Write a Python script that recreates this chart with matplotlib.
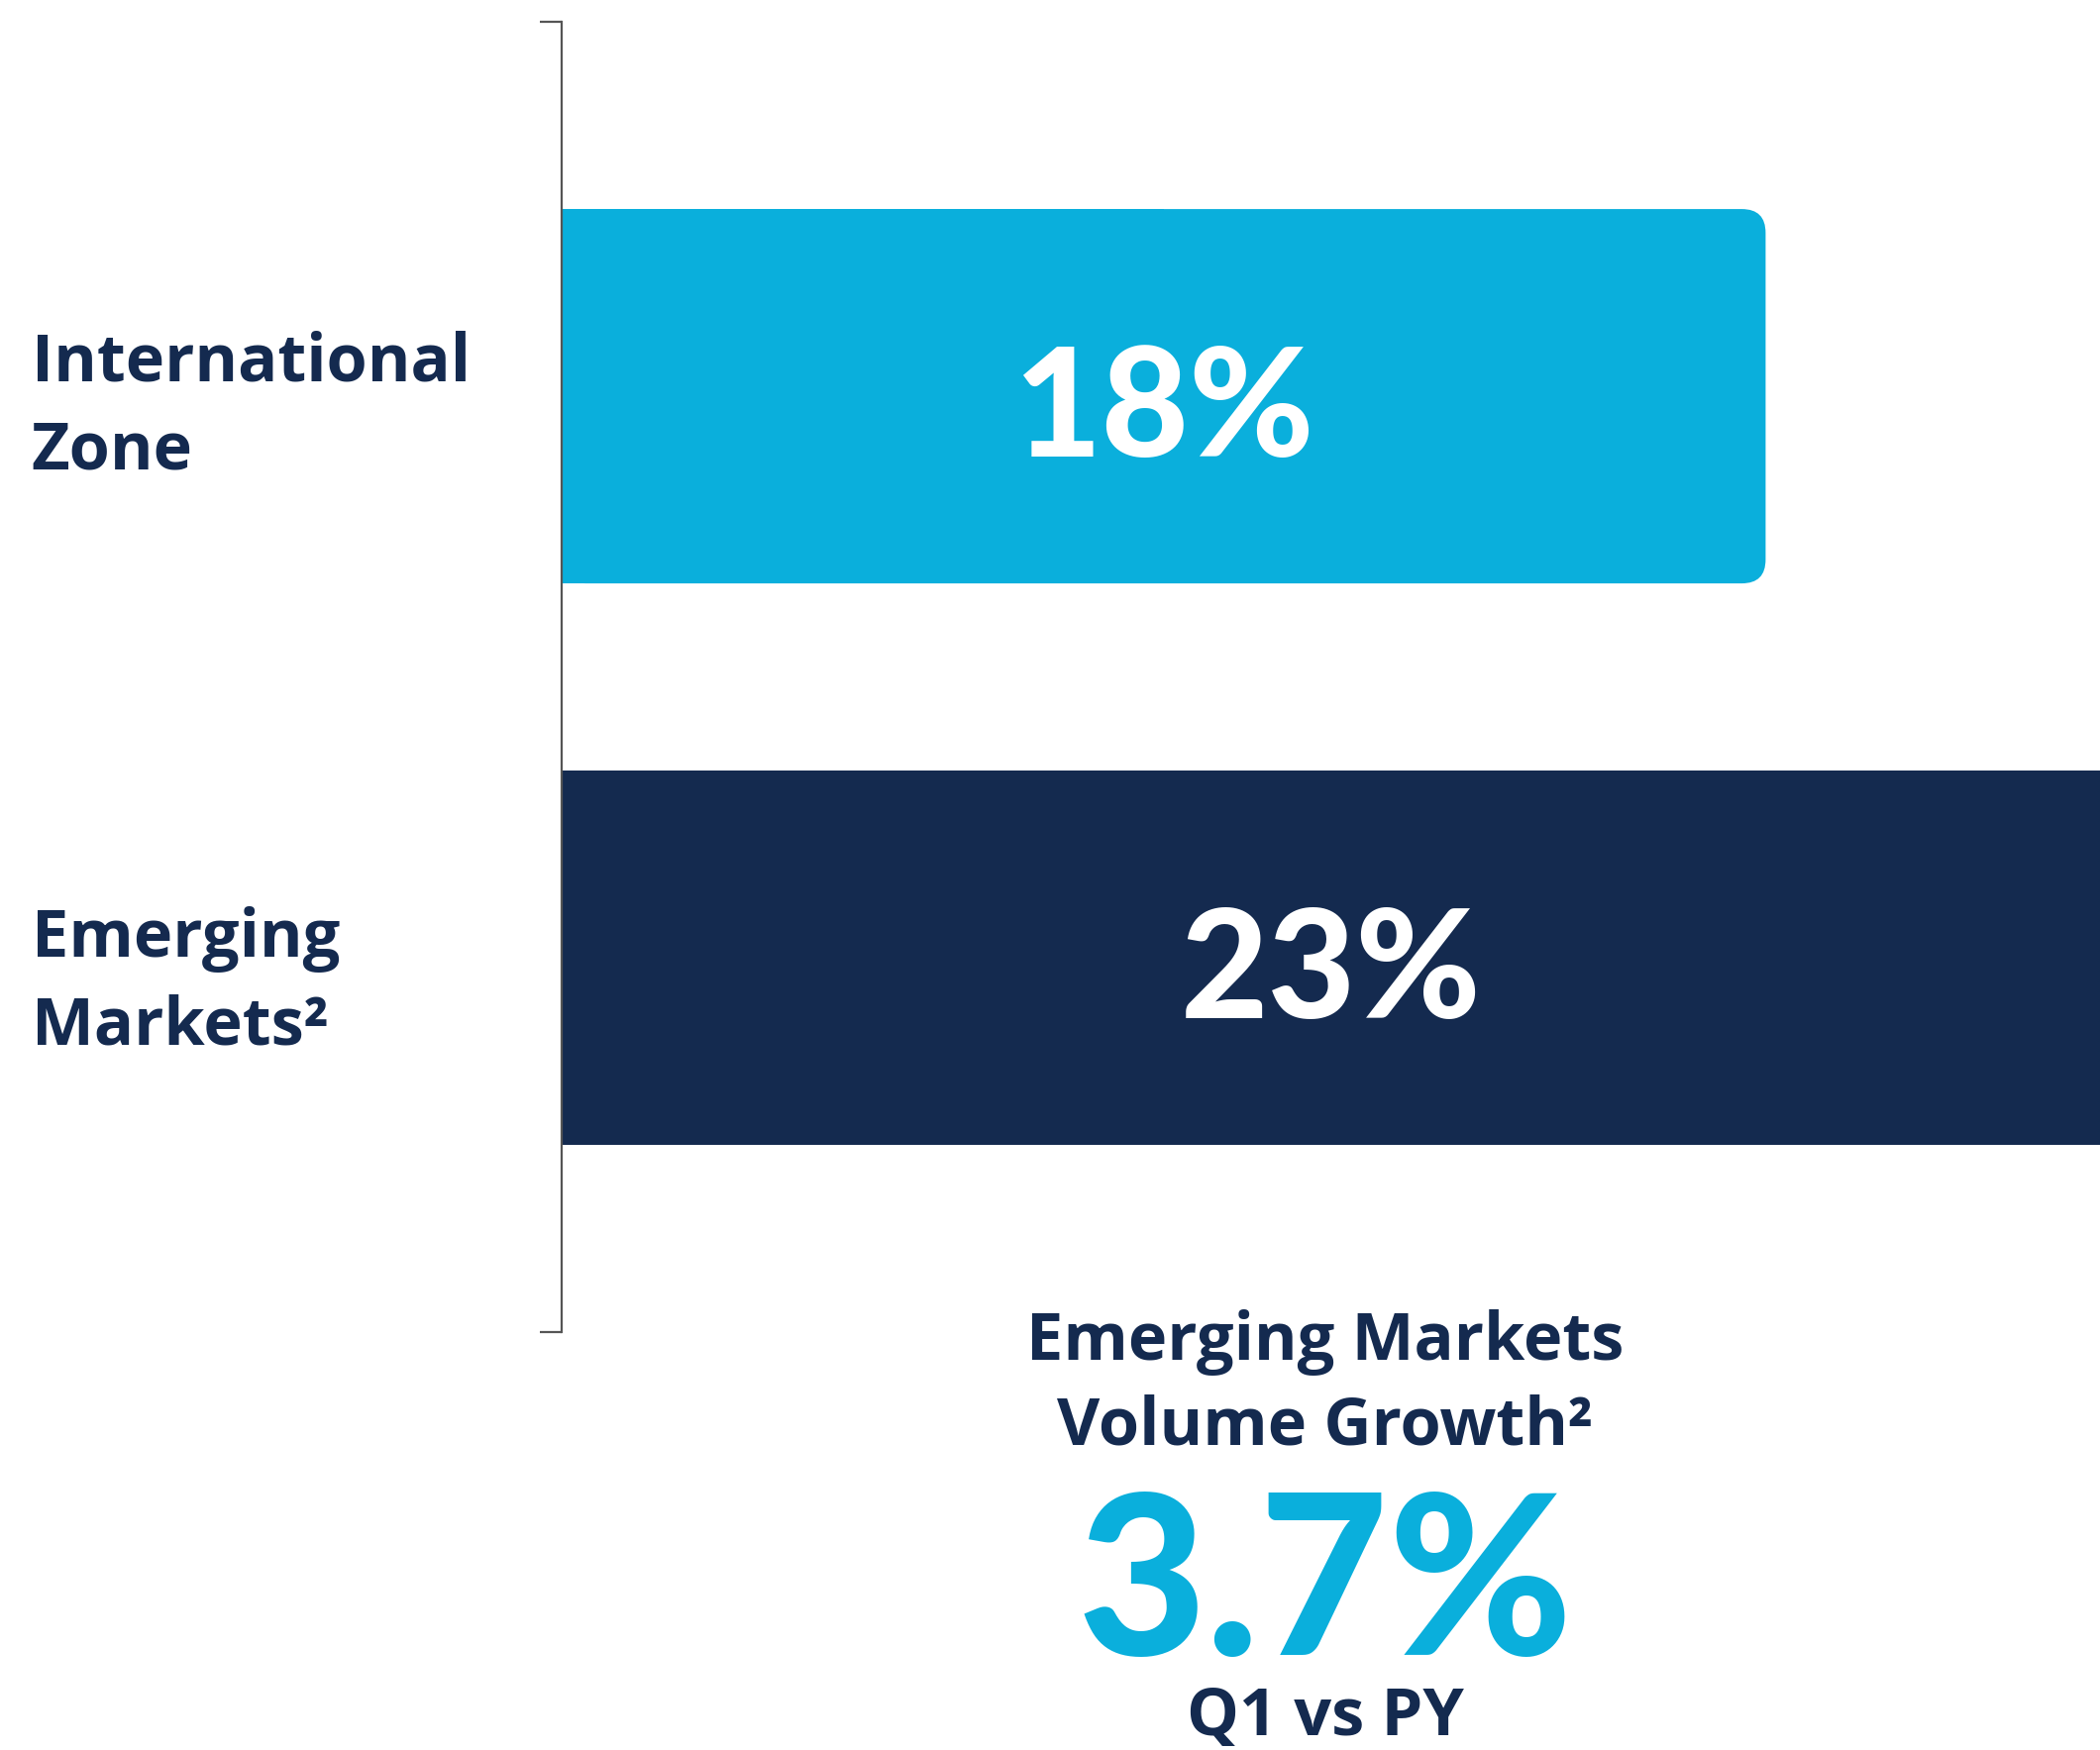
import matplotlib.pyplot as plt
from matplotlib.patches import FancyBboxPatch
from matplotlib.transforms import blended_transform_factory, offset_copy

# regional growth, % vs prior year
regions = ["International\nZone", "Emerging\nMarkets²"]
growth = [18, 23]
bar_colors = ["#0aafdc", "#142a4f"]

headline_title = "Emerging Markets\nVolume Growth²"
headline_value = 3.7
headline_note = "Q1 vs PY"

navy = "#142a4f"
light_blue = "#0aafdc"

fig = plt.figure(figsize=(21.2, 17.67), dpi=100)
ax = fig.add_axes([0.2675, 0.2388, 0.7325, 0.7487])

ypos = [1, 0]
x_max = max(growth)
bar_h = 2 / 3

# value labels sit a little below the geometric centre of the bar
label_tr = offset_copy(ax.transData, fig=fig, x=0, y=-12, units="points")

for y, v, c in zip(ypos, growth, bar_colors):
    if v < x_max:
        # rounded right end, square left end
        x_px = ax.get_position().width * fig.get_figwidth() * fig.dpi / x_max
        y_px = ax.get_position().height * fig.get_figheight() * fig.dpi / (7 / 3)
        r = 24 / x_px
        patch = FancyBboxPatch((0, y - bar_h / 2), v, bar_h,
                               boxstyle=f"round,pad=0,rounding_size={r}",
                               mutation_aspect=x_px / y_px,
                               fc=c, ec="none", zorder=2)
        ax.add_patch(patch)
        ax.barh(y, v / 2, height=bar_h, color=c, zorder=2)
    else:
        ax.barh(y, v, height=bar_h, color=c, zorder=2)
    ax.text(v / 2, y, f"{v}%", transform=label_tr, ha="center", va="center",
            color="white", fontsize=110, fontfamily="Lato",
            fontweight="black", zorder=3)

ax.set_xlim(0, x_max)
ax.set_ylim(-2 / 3, 5 / 3)

for s in ["top", "right", "bottom"]:
    ax.spines[s].set_visible(False)
ax.spines["left"].set_color("#555555")
ax.spines["left"].set_linewidth(1.6)
ax.spines["left"].set_zorder(4)
ax.set_xticks([])
ax.set_yticks([-2 / 3, 5 / 3])
ax.set_yticklabels([])
ax.tick_params(axis="y", length=16, width=1.6, color="#555555")

# category labels on the left
trans = blended_transform_factory(fig.transFigure, ax.transData)
for y, name, dy in zip(ypos, regions, [-0.02, -0.045]):
    ax.text(0.015, y + dy, name, transform=trans, ha="left", va="center",
            fontsize=48, fontfamily="Open Sans", fontweight="bold",
            color=navy, linespacing=1.42)

# headline figure below the chart
cx = 0.631
fig.text(cx, 1 - 1398 / 1767, headline_title, ha="center", va="center",
         fontsize=48, fontfamily="Open Sans", fontweight="bold",
         color=navy, linespacing=1.36)
fig.text(cx, 1 - 1606 / 1767, f"{headline_value}%", ha="center", va="center",
         fontsize=162, fontfamily="Lato", fontweight="black", color=light_blue)
fig.text(cx, 1 - 1734 / 1767, headline_note, ha="center", va="center",
         fontsize=48, fontfamily="Open Sans", fontweight="bold", color=navy)

fig.savefig("out.png", dpi=100)
